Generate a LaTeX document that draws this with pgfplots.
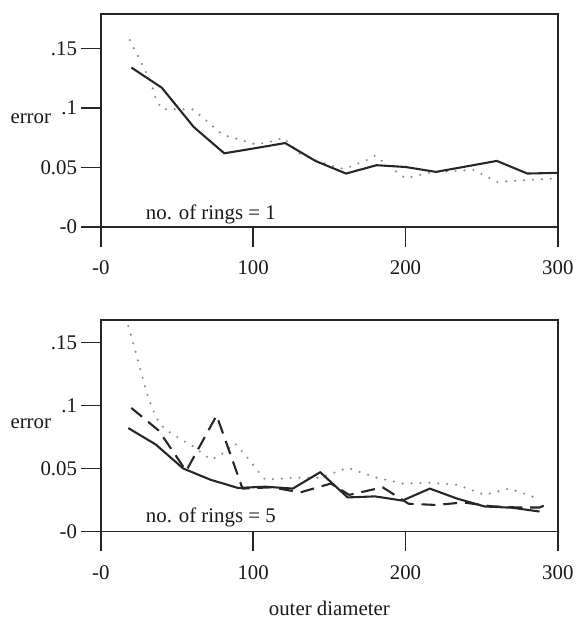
\documentclass[border=0pt]{standalone}
\usepackage{fontspec}
\setmainfont{Liberation Serif}
\usepackage{pgfplots}
\pgfplotsset{compat=1.18}
\pgfplotsset{panel/.style={
  scale only axis, width=230.3pt,
  xmin=0, xmax=300, ymin=0,
  axis line style={line width=0.8pt, black!85},
  tick align=outside, major tick length=10pt,
  major tick style={line width=0.8pt, black!85},
  xtick pos=bottom, ytick pos=left,
  xtick={0,100,200,300}, xticklabels={-0,100,200,300},
  ytick={0,0.05,0.1,0.15}, yticklabels={-0,0.05,.1,.15},
  tick label style={font=\fontsize{10.5}{12}\selectfont, black!90},
  xticklabel style={yshift=-3.5pt},
  yticklabel style={xshift=1.5pt},
  ylabel={error},
  ylabel style={rotate=-90, anchor=center, font=\fontsize{10.5}{12}\selectfont, black!90},
  clip=false,
  solidline/.style={line width=1.05pt, black!85},
  dottedline/.style={line width=1.2pt, black!45, line cap=round, dash pattern=on 0pt off 4.5pt},
  dashedline/.style={line width=1.05pt, black!85, dash pattern=on 7pt off 4pt},
}}
\begin{document}
\begin{tikzpicture}
\begin{axis}[panel, height=107.5pt, ymax=0.179,
  ylabel style={at={(rel axis cs:-0.1535,0.507)}}]
\addplot[dottedline] coordinates {
(19,0.157)(22,0.149)(25,0.142)(28,0.134)(33,0.121)(36,0.108)(40,0.099)(60,0.099)(66,0.093)(75,0.083)(80,0.0775)(88,0.0747)(100,0.070)(108,0.0706)(120,0.075)(130,0.062)(141,0.056)(155,0.050)(160,0.049)(174,0.056)(180,0.060)(195,0.0456)(200,0.041)(213,0.045)(220,0.0464)(245,0.048)(260,0.038)(300,0.041)};
\addplot[solidline] coordinates {
(20,0.134)(40,0.117)(61,0.084)(81,0.062)(100,0.066)(121,0.0706)(141,0.0555)(161,0.045)(181,0.052)(200,0.0505)(220,0.0464)(240,0.051)(260,0.0556)(280,0.045)(300,0.0456)};
\node[font=\fontsize{10.5}{12}\selectfont, black!90] at (rel axis cs:0.2406,0.06) {no. of rings = 1};
\end{axis}
\begin{axis}[panel, at={(0,-153.35pt)}, height=106.7pt, ymax=0.168,
  ylabel style={at={(rel axis cs:-0.1535,0.511)}},
  xlabel={outer diameter},
  xlabel style={at={(rel axis cs:0.5,-0.362)}, anchor=center, font=\fontsize{10.5}{12}\selectfont, black!90}]
\addplot[dottedline] coordinates {
(18,0.163)(22,0.146)(26,0.128)(30,0.110)(34,0.097)(37,0.089)(42,0.081)(54,0.072)(60,0.068)(72,0.057)(78,0.060)(88,0.070)(98,0.056)(103,0.048)(108,0.041)(126,0.0426)(144,0.0426)(162,0.0505)(180,0.043)(198,0.038)(216,0.0386)(234,0.037)(252,0.029)(268,0.034)(281,0.0287)(288,0.0255)};
\addplot[dashedline] coordinates {
(20,0.098)(38,0.080)(56,0.048)(76,0.092)(93,0.034)(112,0.035)(131,0.031)(151,0.038)(163,0.029)(185,0.035)(202,0.022)(220,0.021)(238,0.023)(256,0.020)(274,0.019)(288,0.019)(294,0.022)};
\addplot[solidline] coordinates {
(18,0.082)(36,0.069)(54,0.050)(72,0.041)(90,0.0345)(108,0.0355)(126,0.034)(144,0.047)(162,0.027)(180,0.0278)(198,0.0245)(216,0.034)(234,0.026)(252,0.0198)(270,0.0188)(288,0.0158)};
\node[font=\fontsize{10.5}{12}\selectfont, black!90] at (rel axis cs:0.2406,0.066) {no. of rings = 5};
\end{axis}
\path (-50.85pt,-196.5pt) rectangle (238.15pt,114.5pt);
\end{tikzpicture}
\end{document}
